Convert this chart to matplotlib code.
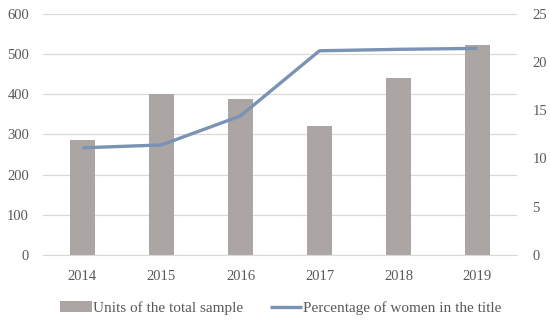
import matplotlib
matplotlib.use("Agg")
import matplotlib.pyplot as plt
import numpy as np

years = ["2014", "2015", "2016", "2017", "2018", "2019"]
units = [285, 401, 388, 320, 440, 522]
women_pct = [11.1, 11.4, 14.4, 21.15, 21.3, 21.4]

plt.rcParams['font.family'] = ['Liberation Serif', 'DejaVu Serif']
text_col = "#595959"

fig = plt.figure(figsize=(5.5, 3.21), dpi=100)
ax = fig.add_axes([0.078, 0.2056, 0.862, 0.752])
ax2 = ax.twinx()

x = np.arange(len(years))
bars = ax.bar(x, units, width=0.31, color="#aba6a4", zorder=2,
              label="Units of the total sample")
line, = ax2.plot(x, women_pct, color="#7a93b5", lw=2.4, solid_capstyle="butt",
                 label="Percentage of women in the title", zorder=3)

ax.set_xlim(-0.5, len(years) - 0.5)
ax.set_ylim(0, 600)
ax2.set_ylim(0, 25)
ax.set_yticks(range(0, 601, 100))
ax2.set_yticks(range(0, 26, 5))
ax.set_xticks(x)
ax.set_xticklabels(years)
ax.yaxis.grid(True, color="#d9d9d9", lw=0.9, zorder=0)
ax.set_axisbelow(True)

for a in (ax, ax2):
    for s in a.spines.values():
        s.set_visible(False)
    a.tick_params(length=0, labelsize=10.5, colors=text_col)
ax.tick_params(axis='y', pad=10)
ax.tick_params(axis='x', pad=11)
ax2.tick_params(axis='y', pad=11)
ax.spines['bottom'].set_visible(True)
ax.spines['bottom'].set_color("#d9d9d9")

fig.legend([bars, line], ["Units of the total sample", "Percentage of women in the title"],
           loc="center", bbox_to_anchor=(0.51, 0.04), ncol=2, frameon=False,
           fontsize=11, labelcolor=text_col, handlelength=2.1, handletextpad=0.05,
           columnspacing=1.8)

fig.savefig("out.png", dpi=100)
